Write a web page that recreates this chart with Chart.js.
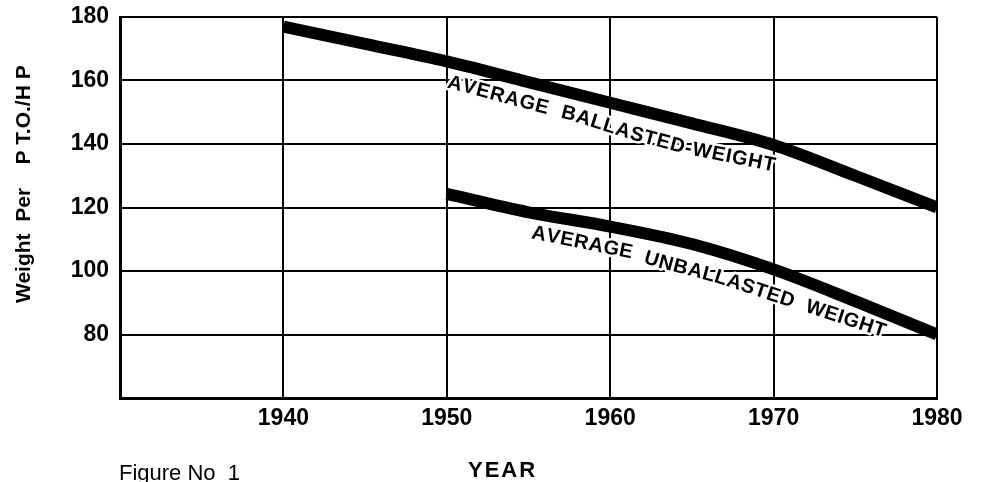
<!DOCTYPE html>
<html>
<head>
<meta charset="utf-8">
<script src="https://cdn.jsdelivr.net/npm/chart.js@4"></script>
<style>
  body { margin: 0; background: #fff; }
  #wrap { width: 981px; height: 482px; }
</style>
</head>
<body>
<div id="wrap"><canvas id="weightChart"></canvas></div>
<script>
// values
const ballastedYears = [1940, 1945, 1950, 1955, 1960, 1965, 1970, 1975, 1980];
const ballasted = [177, 171.5, 166, 159.5, 153, 146.5, 139.7, 130, 120];
const unballastedYears = [1950, 1955, 1960, 1965, 1970, 1975, 1980];
const unballasted = [124.3, 118.5, 114, 108.5, 100.5, 90.5, 80];

const yTicks = [80, 100, 120, 140, 160, 180];
const xTicks = [1940, 1950, 1960, 1970, 1980];

// curve labels, written along a path given in data units
const labelBallasted = "AVERAGE  BALLASTED-WEIGHT";
const labelBallastedPath = [[1950.07, 159.5], [1955.77, 151.65], [1957.54, 149.4], [1961.4, 143.1], [1964.58, 138.7], [1970.09, 133.1]];
const labelUnballasted = "AVERAGE  UNBALLASTED  WEIGHT";
const labelUnballastedPath = [[1955.21, 112.0], [1961.03, 106.0], [1963.05, 102.8], [1966.72, 97.8], [1970.27, 91.8], [1976.82, 80.8]];

const FONT = "'Liberation Sans', Arial, sans-serif";
const toXY = (xs, ys) => xs.map((x, i) => ({ x: x, y: ys[i] }));

function textOnPath(ctx, text, pts, mode) {
  const segs = [];
  let total = 0;
  for (let i = 1; i < pts.length; i++) {
    const dx = pts[i][0] - pts[i - 1][0], dy = pts[i][1] - pts[i - 1][1];
    const len = Math.hypot(dx, dy);
    segs.push({ x: pts[i - 1][0], y: pts[i - 1][1], dx, dy, len, start: total });
    total += len;
  }
  const chars = [...text];
  const widths = chars.map(c => ctx.measureText(c).width);
  const sumW = widths.reduce((a, b) => a + b, 0);
  const gap = (total - sumW) / (chars.length - 1);
  let d = 0;
  chars.forEach((c, i) => {
    const mid = d + widths[i] / 2;
    const s = segs.find(sg => mid <= sg.start + sg.len) || segs[segs.length - 1];
    const t = (mid - s.start) / s.len;
    ctx.save();
    ctx.translate(s.x + s.dx * t, s.y + s.dy * t);
    ctx.rotate(Math.atan2(s.dy, s.dx));
    if (mode === "stroke") ctx.strokeText(c, 0, 0);
    else ctx.fillText(c, 0, 0);
    ctx.restore();
    d += widths[i] + gap;
  });
}

const curveLabels = {
  id: "curveLabels",
  afterDatasetsDraw(chart) {
    const { ctx, scales: { x, y } } = chart;
    const px = path => path.map(p => [x.getPixelForValue(p[0]), y.getPixelForValue(p[1])]);
    ctx.save();
    ctx.font = "bold 20px " + FONT;
    ctx.textAlign = "center";
    ctx.textBaseline = "middle";
    ctx.strokeStyle = "#fff";
    ctx.lineWidth = 5;
    ctx.lineJoin = "round";
    ctx.fillStyle = "#000";
    [[labelBallasted, labelBallastedPath], [labelUnballasted, labelUnballastedPath]].forEach(([txt, p]) => {
      textOnPath(ctx, txt, px(p), "stroke");
      textOnPath(ctx, txt, px(p), "fill");
    });
    ctx.restore();
  },
  afterDraw(chart) {
    const ctx = chart.ctx;
    ctx.save();
    ctx.fillStyle = "#000";
    // y axis title, sits above the middle of the axis in the original
    ctx.save();
    ctx.translate(24, 303);
    ctx.rotate(-Math.PI / 2);
    ctx.font = "bold 21px " + FONT;
    ctx.textAlign = "left";
    ctx.textBaseline = "middle";
    ctx.fillText("Weight  Per    P T.O./H P", 0, 0);
    ctx.restore();

    ctx.textAlign = "left";
    ctx.textBaseline = "alphabetic";
    ctx.font = "22px " + FONT;
    ctx.fillText("Figure No  1", 119, 480);
    ctx.font = "bold 22px " + FONT;
    ctx.letterSpacing = "2px";
    ctx.fillText("YEAR", 468, 477);
    ctx.restore();
  }
};

const lineStyle = {
  borderColor: "#000",
  borderWidth: 12,
  pointRadius: 0,
  cubicInterpolationMode: "monotone",
  borderCapStyle: "butt",
  fill: false
};

new Chart(document.getElementById("weightChart"), {
  type: "line",
  data: {
    datasets: [
      { label: "Average ballasted weight", data: toXY(ballastedYears, ballasted), ...lineStyle },
      { label: "Average unballasted weight", data: toXY(unballastedYears, unballasted), ...lineStyle }
    ]
  },
  options: {
    responsive: true,
    maintainAspectRatio: false,
    animation: false,
    layout: { padding: { left: 0, right: 44, top: 17, bottom: 0 } },
    plugins: {
      legend: { display: false },
      tooltip: { enabled: false }
    },
    scales: {
      x: {
        type: "linear",
        min: 1930,
        max: 1980,
        afterFit: s => { s.height = 84; s.paddingLeft = 0; s.paddingRight = 0; },
        afterBuildTicks: s => { s.ticks = [1930, ...xTicks].map(v => ({ value: v })); },
        grid: { color: "#000", lineWidth: 2, drawTicks: false },
        border: { color: "#000", width: 3 },
        ticks: {
          padding: 7,
          color: "#000",
          font: { family: FONT, size: 23, weight: "bold" },
          callback: v => xTicks.includes(v) ? String(v) : ""
        }
      },
      y: {
        min: 60,
        max: 180,
        afterFit: s => { s.width = 120; s.paddingTop = 0; s.paddingBottom = 0; },
        afterBuildTicks: s => { s.ticks = [60, ...yTicks].map(v => ({ value: v })); },
        grid: { color: "#000", lineWidth: 2, drawTicks: false },
        border: { color: "#000", width: 3 },
        ticks: {
          padding: 11,
          color: "#000",
          font: { family: FONT, size: 23, weight: "bold" },
          callback: v => yTicks.includes(v) ? String(v) : ""
        }
      }
    }
  },
  plugins: [curveLabels]
});
</script>
</body>
</html>
